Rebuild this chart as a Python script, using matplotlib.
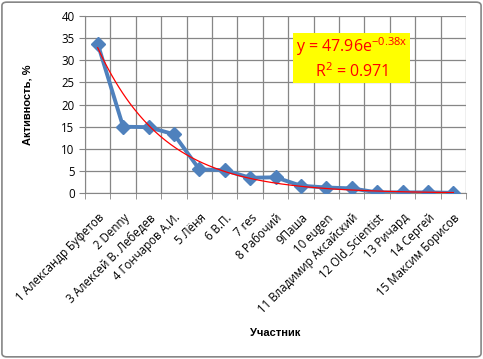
import numpy as np
import matplotlib
matplotlib.use("Agg")
import matplotlib.pyplot as plt
from matplotlib.patches import FancyBboxPatch, Rectangle

plt.rcParams["font.family"] = ["Open Sans", "DejaVu Sans"]
plt.rcParams["mathtext.default"] = "regular"

participants = ["1 Александр Буфетов", "2 Denny", "3 Алексей В. Лебедев",
                "4 Гончаров А.И.", "5 Лёня", "6 В.П.", "7 res", "8 Рабочий",
                "9Паша", "10 eugen", "11 Владимир Аксайский",
                "12 Old_Scientist", "13 Ричард", "14 Сергей",
                "15 Максим Борисов"]
activity = [33.7, 15.0, 14.9, 13.3, 5.4, 5.2, 3.5, 3.6, 1.7, 1.3, 1.1,
            0.2, 0.2, 0.2, 0.1]
fit_a, fit_b = 47.96, -0.38

fig = plt.figure(figsize=(4.83, 3.59), dpi=100)
ax = fig.add_axes([0.176, 0.4616, 0.789, 0.4944])

x = np.arange(1, len(activity) + 1)
xf = np.linspace(1, len(activity), 200)
ax.plot(x, activity, color="#4F81BD", lw=2.8, marker="D", ms=7.5,
        markeredgecolor="#4F81BD", zorder=3)
ax.plot(xf, fit_a * np.exp(fit_b * xf), color="red", lw=0.9, zorder=4)

ax.set_xlim(0.5, len(activity) + 0.5)
ax.set_ylim(0, 40)
ax.set_yticks(range(0, 41, 5))
ax.set_xticks(x)
ax.set_xticks(np.arange(0.5, len(activity) + 1), minor=True)
ax.set_xticklabels(participants, rotation=45, ha="right",
                   rotation_mode="anchor", fontsize=8.3)
ax.tick_params(axis="x", which="major", length=0, pad=13)
ax.tick_params(axis="x", which="minor", length=4, color="#868686")
ax.tick_params(axis="y", length=4, color="#868686", labelsize=8.3)
ax.grid(True, axis="y", color="#868686", lw=0.9)
ax.grid(True, axis="x", which="minor", color="#868686", lw=0.9)
for s in ["top", "right"]:
    ax.spines[s].set_visible(False)
for s in ["left", "bottom"]:
    ax.spines[s].set_color("#868686")

ax.set_ylabel("Активность, %", fontsize=8, fontweight="bold",
              family=["Liberation Sans", "DejaVu Sans"])
ax.yaxis.set_label_coords(-0.137, 0.5)
fig.text(0.569, 0.072, "Участник", fontsize=8, fontweight="bold",
         family=["Liberation Sans", "DejaVu Sans"], ha="center", va="center")

# trendline equation label
fig.patches.append(Rectangle((0.607, 0.769), 0.242, 0.139,
                             transform=fig.transFigure, fc="yellow",
                             ec="none", zorder=5))
fig.text(0.728, 0.838, "y = 47.96e$^{-0.38x}$\nR$^2$ = 0.971",
         ha="center", va="center", color="red", fontsize=11.5,
         linespacing=1.25, zorder=6)

fig.patches.append(FancyBboxPatch((0.004, 0.006), 0.992, 0.988,
                                  boxstyle="round,pad=0,rounding_size=0.01",
                                  transform=fig.transFigure, fc="none",
                                  ec="#868686", lw=1.2))

fig.savefig("out.png", dpi=100)
